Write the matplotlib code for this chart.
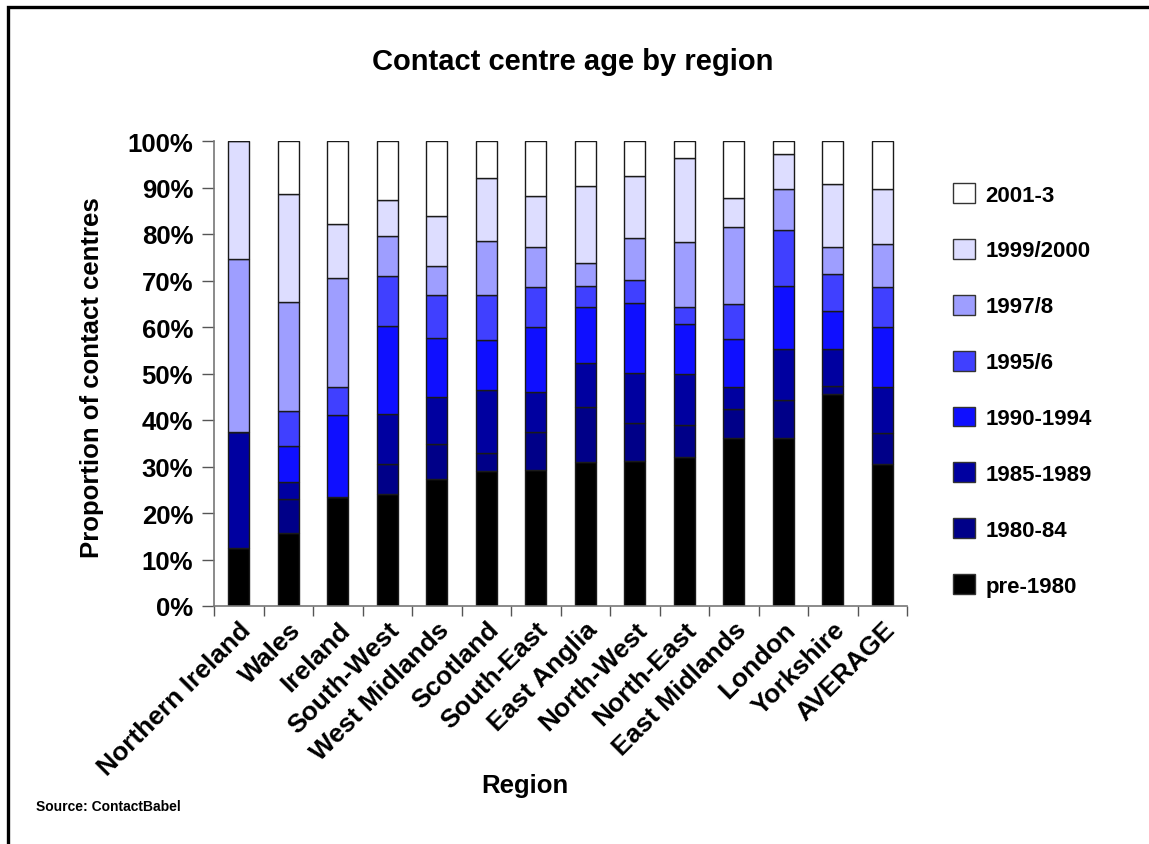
import matplotlib
matplotlib.use("Agg")
import matplotlib.pyplot as plt
from matplotlib.patches import Patch, Rectangle
import numpy as np

plt.rcParams['font.family'] = ['Liberation Sans', 'DejaVu Sans']
plt.rcParams['font.weight'] = 'bold'

regions = ["Northern Ireland", "Wales", "Ireland", "South-West", "West Midlands",
           "Scotland", "South-East", "East Anglia", "North-West", "North-East",
           "East Midlands", "London", "Yorkshire", "AVERAGE"]

periods = ["pre-1980", "1980-84", "1985-1989", "1990-1994", "1995/6",
           "1997/8", "1999/2000", "2001-3"]

# share of contact centres (%) per opening period, one list per period
pre_1980 = [12.4, 15.8, 23.5, 24.1, 27.3, 29.1, 29.2, 31.0, 31.2, 32.0, 36.1, 36.1, 45.5, 30.5]
y1980_84 = [0.0, 7.2, 0.0, 6.4, 7.5, 3.7, 8.2, 11.7, 8.2, 7.0, 6.2, 8.1, 1.9, 6.8]
y1985_89 = [25.1, 3.6, 0.0, 10.8, 10.2, 13.7, 8.6, 9.5, 10.8, 10.8, 4.7, 11.1, 7.9, 9.7]
y1990_94 = [0.0, 7.9, 17.6, 19.0, 12.6, 10.6, 13.9, 12.0, 15.0, 10.8, 10.4, 13.6, 8.2, 12.9]
y1995_6 = [0.0, 7.5, 5.9, 10.7, 9.3, 9.8, 8.6, 4.7, 4.9, 3.6, 7.5, 12.0, 7.9, 8.6]
y1997_8 = [37.1, 23.3, 23.5, 8.5, 6.3, 11.7, 8.6, 4.8, 9.1, 14.0, 16.7, 8.8, 5.7, 9.3]
y1999_2000 = [25.4, 23.2, 11.7, 7.9, 10.6, 13.4, 11.1, 16.7, 13.2, 18.1, 6.1, 7.6, 13.7, 11.9]
y2001_3 = [0.0, 11.5, 17.8, 12.6, 16.2, 8.0, 11.8, 9.6, 7.6, 3.7, 12.3, 2.7, 9.2, 10.3]

series = [pre_1980, y1980_84, y1985_89, y1990_94, y1995_6, y1997_8, y1999_2000, y2001_3]
colors = ["#000000", "#000088", "#0000A0", "#0F0FFF", "#4040FF", "#9E9EFF", "#DDDDFF", "#FFFFFF"]

W, H = 1149, 845
fig = plt.figure(figsize=(W / 100, H / 100), dpi=100)
ax = fig.add_axes([214 / W, 1 - 607 / H, (907 - 214) / W, (607 - 142) / H])

x = np.arange(len(regions))
bottom = np.zeros(len(regions))
for vals, col in zip(series, colors):
    v = np.array(vals)
    ax.bar(x, v, bottom=bottom, width=0.43, color=col, edgecolor="#1a1a1a",
           linewidth=1.0, zorder=2)
    bottom += v

ax.set_xlim(-0.5, len(regions) - 0.5)
ax.set_ylim(0, 100)

yt = np.arange(0, 101, 10)
ax.set_yticks(yt)
ax.set_yticklabels([f"{v}%" for v in yt], fontsize=18.5, fontweight='bold')
ax.tick_params(axis='y', direction='out', length=9, width=1, color='#555555', pad=6)

ax.set_xticks(x)
ax.set_xticklabels(regions, rotation=45, ha='right', rotation_mode='anchor',
                   fontsize=19, fontweight='bold')
ax.tick_params(axis='x', which='major', length=0, pad=8)
ax.set_xticks(np.arange(-0.5, len(regions)), minor=True)
ax.tick_params(axis='x', which='minor', direction='out', length=7, width=1, color='#555555')

for s in ['top', 'right']:
    ax.spines[s].set_visible(False)
for s in ['left', 'bottom']:
    ax.spines[s].set_color('#777777')
    ax.spines[s].set_linewidth(1.2)

fig.text(573 / W, 1 - 62 / H, "Contact centre age by region", ha='center', va='center',
         fontsize=21, fontweight='bold')
fig.text(92 / W, 1 - 378 / H, "Proportion of contact centres", ha='center', va='center',
         rotation=90, fontsize=18.5, fontweight='bold')
fig.text(525 / W, 1 - 786 / H, "Region", ha='center', va='center',
         fontsize=18.5, fontweight='bold')
fig.text(36 / W, 1 - 807 / H, "Source: ContactBabel", ha='left', va='center',
         fontsize=10, fontweight='bold')

handles = [Patch(facecolor=c, edgecolor='#333333', linewidth=1) for c in colors[::-1]]
fig.legend(handles, periods[::-1], loc='upper left',
           bbox_to_anchor=(953 / W, 1 - 184 / H), frameon=False,
           prop={'size': 16, 'weight': 'bold'}, handlelength=1.0, handleheight=1.0,
           handletextpad=0.45, labelspacing=1.5, borderpad=0, borderaxespad=0)

# outer frame of the chart
fig.patches.append(Rectangle((8 / W, -0.1), 1.2, 1 - 8 / H + 0.1, transform=fig.transFigure,
                             fill=False, edgecolor='black', linewidth=2.4, zorder=10))

fig.savefig("out.png", dpi=100)
